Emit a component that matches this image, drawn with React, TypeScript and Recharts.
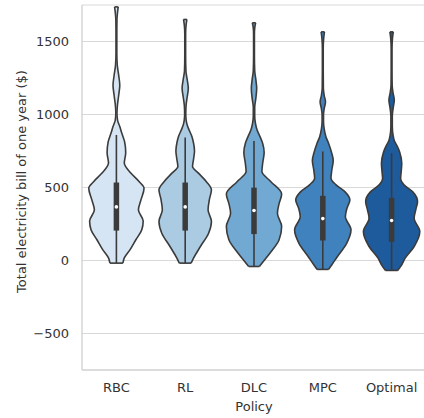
import React from 'react';
import { ComposedChart, Area, XAxis, YAxis, CartesianGrid, ReferenceLine, ReferenceDot } from 'recharts';

const categories = ['RBC', 'RL', 'DLC', 'MPC', 'Optimal'];
const fillColors = ['#d6e5f3', '#abcbe3', '#71a9d3', '#3f82be', '#1d5b9d'];
const yTicks = [-500, 0, 500, 1000, 1500];

// violin outlines: bill values ($) and relative density (percent of widest)
const rbcValues = [-18, 18, 73, 142, 210, 270, 347, 415, 495, 540, 599, 667, 740, 814, 873, 917, 962, 1010, 1070, 1130, 1200, 1270, 1340, 1420, 1550, 1650, 1700, 1737];
const rbcDensity = [23, 28, 48, 69, 90, 95, 78, 87, 98, 81, 51, 28, 33, 29, 19, 12, 4, 2, 4, 8, 12, 8, 3, 1.5, 1.5, 2, 4, 6.5];

const rlValues = [-18, 18, 96, 187, 267, 347, 420, 484, 540, 600, 643, 700, 750, 810, 848, 900, 928, 960, 1000, 1060, 1120, 1179, 1240, 1300, 1400, 1550, 1610, 1651];
const rlDensity = [21, 30, 54, 83, 93, 81, 86, 93, 75, 46, 26, 30, 33, 29, 24, 12.5, 7, 3.5, 2, 3, 7, 11, 7, 2.5, 1.5, 1.5, 3, 6];

const dlcValues = [-41, -7, 51, 142, 233, 324, 390, 455, 540, 609, 670, 740, 800, 850, 894, 940, 990, 1050, 1110, 1179, 1240, 1300, 1400, 1550, 1600, 1628];
const dlcDensity = [19, 33, 57, 89, 98, 83, 89, 98, 60, 28, 31, 36, 31, 21, 11, 5, 2.5, 2.5, 6.5, 9.5, 6.5, 2.5, 1.5, 1.5, 3, 6];

const mpcValues = [-61, -29, 27, 119, 210, 301, 360, 415, 470, 520, 564, 620, 685, 740, 800, 848, 900, 950, 1000, 1040, 1088, 1130, 1180, 1300, 1450, 1520, 1566];
const mpcDensity = [20, 32, 52, 85, 100, 80, 86, 96, 79, 46, 29, 32, 37, 31, 21, 11, 5, 2.5, 2.5, 5, 9.5, 5, 2, 1.5, 1.5, 3, 6];

const optimalValues = [-68, -35, 16, 96, 198, 290, 350, 404, 470, 520, 560, 610, 666, 740, 790, 814, 860, 920, 990, 1050, 1099, 1150, 1200, 1300, 1450, 1520, 1566];
const optimalDensity = [22, 34, 48, 80, 100, 80, 86, 92, 75, 43, 32, 34, 36, 29, 18, 11, 5, 2.5, 2.5, 6, 9.5, 5, 2, 1.5, 1.5, 3, 6];

// inner box plot statistics
const whiskerLow = [-18, -18, -41, -61, -68];
const q1 = [205, 205, 181, 137, 128];
const medians = [367, 367, 342, 287, 274];
const q3 = [534, 534, 499, 443, 429];
const whiskerHigh = [860, 842, 819, 746, 735];

const MAX_HALF = 0.41;
const OUTLINE = '#3b3b3b';
const FONT = '"DejaVu Sans", sans-serif';

const violins = [
  { values: rbcValues, density: rbcDensity },
  { values: rlValues, density: rlDensity },
  { values: dlcValues, density: dlcDensity },
  { values: mpcValues, density: mpcDensity },
  { values: optimalValues, density: optimalDensity },
];

const violinData = violins.map((v, i) =>
  v.values.map((y, k) => {
    const h = (v.density[k] / 100) * MAX_HALF;
    return { y, r: [i - h, i + h] };
  })
);

const YLabel = (props: any) => {
  const vb = props.viewBox || { x: 0, y: 5, width: 82, height: 365 };
  const cx = vb.x + 21;
  const cy = vb.y + vb.height / 2 - 6;
  return (
    <text x={cx} y={cy} transform={`rotate(-90, ${cx}, ${cy})`} textAnchor="middle" dominantBaseline="central"
      fill="#333" fontSize={13} fontFamily={FONT}>
      Total electricity bill of one year ($)
    </text>
  );
};

const XLabel = (props: any) => {
  const vb = props.viewBox || { x: 82, y: 370, width: 344, height: 48 };
  return (
    <text x={vb.x + vb.width / 2} y={vb.y + vb.height - 7} textAnchor="middle" fill="#333" fontSize={13} fontFamily={FONT}>
      Policy
    </text>
  );
};

export default function App() {
  return (
    <div style={{ position: 'absolute', left: 0, top: 0, width: 424, height: 418, overflow: 'hidden', background: '#fff' }}>
      <ComposedChart
        width={428}
        height={418}
        layout="vertical"
        margin={{ top: 5, right: 2, left: 0, bottom: 0 }}
        style={{ fontFamily: FONT }}
      >
        <CartesianGrid horizontal={true} vertical={false} stroke="#d9d9d9" strokeWidth={1.2} />
        <XAxis
          type="number"
          domain={[-0.5, 4.5]}
          ticks={[0, 1, 2, 3, 4]}
          interval={0}
          allowDataOverflow={true}
          tickFormatter={(v: number) => categories[v] ?? ''}
          axisLine={{ stroke: '#cccccc', strokeWidth: 1.2 }}
          tickLine={false}
          tickSize={0}
          tickMargin={13}
          height={48}
          tick={{ fill: '#333', fontSize: 13, fontFamily: FONT }}
          label={<XLabel />}
        />
        <YAxis
          type="number"
          dataKey="y"
          reversed={true}
          domain={[-750, 1750]}
          ticks={yTicks}
          interval={0}
          allowDataOverflow={true}
          axisLine={{ stroke: '#cccccc', strokeWidth: 1.2 }}
          tickLine={false}
          tickSize={0}
          tickMargin={13}
          width={82}
          tick={{ fill: '#333', fontSize: 13, fontFamily: FONT }}
          tickFormatter={(v: number) => (v < 0 ? `\u2212${Math.abs(v)}` : `${v}`)}
          label={<YLabel />}
        />
        {violinData.map((d, i) => (
          <Area
            key={`v${i}`}
            data={d}
            dataKey="r"
            type="monotone"
            fill={fillColors[i]}
            fillOpacity={1}
            stroke={OUTLINE}
            strokeWidth={1.6}
            dot={false}
            activeDot={false}
            isAnimationActive={false}
          />
        ))}
        {violins.map((v, i) => {
          const hb = (v.density[0] / 100) * MAX_HALF;
          const n = v.values.length - 1;
          const ht = (v.density[n] / 100) * MAX_HALF;
          return [
            <ReferenceLine key={`b${i}`} segment={[{ x: i - hb, y: v.values[0] }, { x: i + hb, y: v.values[0] }]} stroke={OUTLINE} strokeWidth={1.6} />,
            <ReferenceLine key={`t${i}`} segment={[{ x: i - ht, y: v.values[n] }, { x: i + ht, y: v.values[n] }]} stroke={OUTLINE} strokeWidth={1.6} />,
          ];
        })}
        {categories.map((c, i) => (
          <ReferenceLine key={`w${i}`} segment={[{ x: i, y: whiskerLow[i] }, { x: i, y: whiskerHigh[i] }]} stroke={OUTLINE} strokeWidth={1.6} />
        ))}
        {categories.map((c, i) => (
          <ReferenceLine key={`q${i}`} segment={[{ x: i, y: q1[i] }, { x: i, y: q3[i] }]} stroke={OUTLINE} strokeWidth={5.5} />
        ))}
        {categories.map((c, i) => (
          <ReferenceDot key={`m${i}`} x={i} y={medians[i]} r={1.8} fill="#ffffff" stroke="none" />
        ))}
      </ComposedChart>
    </div>
  );
}
